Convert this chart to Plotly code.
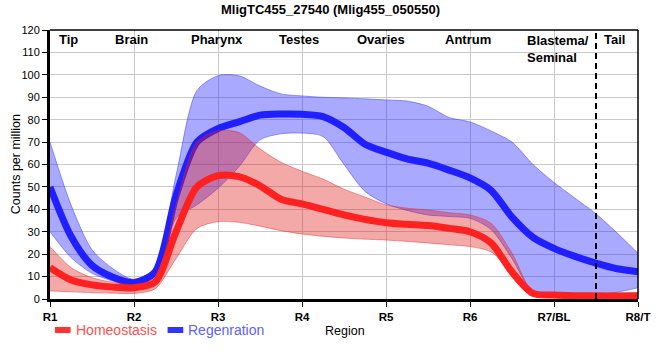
import plotly.graph_objects as go

# ---- data ----
x_pos = [1.0, 1.25, 1.5, 1.75, 2.0, 2.25, 2.5, 2.75, 3.0, 3.25, 3.5, 3.75, 4.0, 4.25,
         4.5, 4.75, 5.0, 5.25, 5.5, 5.75, 6.0, 6.25, 6.5, 6.75, 7.0, 7.25, 7.5, 7.75, 8.0]

homeo_mean = [14, 8.5, 6.3, 5.3, 5.0, 7.5, 30, 50, 55, 54.6, 50.5, 44.5, 42.4, 40,
              37.5, 35.5, 34, 33.3, 32.8, 31.5, 30, 25, 12, 2.5, 1.8, 1.5, 1.4, 1.3, 1.3]
homeo_upper = [23.4, 14, 9.5, 7.5, 6.5, 9.5, 42, 70, 75, 74.3, 67, 61, 57, 53.5,
               49, 45.5, 42, 40.5, 39.7, 38.5, 37.5, 33.8, 20.4, 3, 2, 2.2, 2.5, 2.7, 3]
homeo_lower = [3.6, 3.2, 2.8, 2.6, 2.5, 4.5, 18, 31.5, 34.5, 34.2, 32.5, 30.5, 29, 28,
               27.2, 26.7, 26.3, 25.7, 25, 24.2, 23.4, 21, 12, 2.5, 1, 0.8, 0.7, 0.7, 0.7]

regen_mean = [50, 28, 15, 9.7, 7.3, 12, 46, 70, 76, 79, 82, 82.5, 82.4, 81.4,
              76.5, 69, 65.5, 62.5, 60.6, 57.5, 54, 48.5, 36.5, 27.5, 22.6, 19, 16, 13.5, 12.2]
regen_upper = [70, 42, 22, 13.5, 8.8, 14, 55, 93, 99.6, 99.6, 95, 91.5, 90.6, 90,
               89.7, 89.3, 88.8, 88.3, 86, 81, 79, 75, 70, 60, 52, 45, 38, 29.5, 20.4]
regen_lower = [30, 18.5, 11.5, 8, 6.1, 10, 36, 42, 49.4, 59, 71, 73.7, 74, 72.5,
               60, 48, 42.5, 39.5, 37.5, 36.8, 36, 31, 18, 3, 1, 1, 1.8, 3, 5]

tick_vals = [1, 2, 3, 4, 5, 6, 7, 8]
tick_labels = ["R1", "R2", "R3", "R4", "R5", "R6", "R7/BL", "R8/T"]

region_names = ["Tip", "Brain", "Pharynx", "Testes", "Ovaries", "Antrum", "Tail"]
region_x = [1.22, 1.97, 2.99, 3.96, 4.94, 5.98, 7.72]
blastema_label = "Blastema/<br>Seminal"
blastema_x = 6.65
tail_boundary = 7.5

series_names = ["Homeostasis", "Regenration"]

# ---- styling ----
FONT = "Liberation Sans, Arial, sans-serif"
W, H = 660, 360
L, T = 50, 30
PLOT_R, PLOT_B = 650, 299
R, B = W - PLOT_R, H - PLOT_B
PW, PH = PLOT_R - L, PLOT_B - T

def px_x(px):  # page pixel -> paper
    return (px - L) / PW

def px_y(py):
    return (PLOT_B - py) / PH

BLUE = "#1f1fff"
RED = "#ff2020"
BLUE_BAND = "rgba(40,40,255,0.40)"
RED_BAND = "rgba(225,30,30,0.38)"
SPL = dict(shape="spline", smoothing=0.8)

fig = go.Figure()

# Regeneration band + line
fig.add_trace(go.Scatter(x=x_pos, y=regen_upper, mode="lines",
                         line=dict(color="rgba(60,60,255,0.5)", width=1, **SPL),
                         hoverinfo="skip", showlegend=False))
fig.add_trace(go.Scatter(x=x_pos, y=regen_lower, mode="lines", fill="tonexty",
                         fillcolor=BLUE_BAND,
                         line=dict(color="rgba(60,60,255,0.5)", width=1, **SPL),
                         hoverinfo="skip", showlegend=False))
fig.add_trace(go.Scatter(x=x_pos, y=regen_mean, mode="lines",
                         line=dict(color=BLUE, width=7, **SPL),
                         name=series_names[1], showlegend=False))

# Homeostasis band + line
fig.add_trace(go.Scatter(x=x_pos, y=homeo_upper, mode="lines",
                         line=dict(color="rgba(225,40,40,0.45)", width=1, **SPL),
                         hoverinfo="skip", showlegend=False))
fig.add_trace(go.Scatter(x=x_pos, y=homeo_lower, mode="lines", fill="tonexty",
                         fillcolor=RED_BAND,
                         line=dict(color="rgba(225,40,40,0.45)", width=1, **SPL),
                         hoverinfo="skip", showlegend=False))
fig.add_trace(go.Scatter(x=x_pos, y=homeo_mean, mode="lines",
                         line=dict(color=RED, width=7, **SPL),
                         name=series_names[0], showlegend=False))

annotations = []
for name, xv in zip(region_names, region_x):
    annotations.append(dict(x=xv, y=px_y(39), xref="x", yref="paper", text="<b>%s</b>" % name,
                            showarrow=False, xanchor="center", yanchor="middle",
                            font=dict(family=FONT, size=13, color="black")))
annotations.append(dict(x=blastema_x, y=px_y(31), xref="x", yref="paper",
                        text="<b>%s</b>" % blastema_label, showarrow=False,
                        xanchor="left", yanchor="top", align="left",
                        font=dict(family=FONT, size=13, color="black")))

# axis titles
annotations.append(dict(x=px_x(15), y=0.5, xref="paper", yref="paper", text="Counts per million",
                        textangle=-90, showarrow=False, xanchor="center", yanchor="middle",
                        font=dict(family=FONT, size=12.5, color="black")))
annotations.append(dict(x=px_x(351), y=px_y(331), xref="paper", yref="paper", text="Region",
                        showarrow=False, xanchor="center", yanchor="middle",
                        font=dict(family=FONT, size=12.5, color="black")))

# manual legend
legend_items = [(series_names[0], "#ff3333", "#ff5050", 55, 74),
                (series_names[1], "#3333ff", "#6060ff", 170, 189)]
shapes = []
for name, sw, tc, sx, tx in legend_items:
    shapes.append(dict(type="rect", xref="paper", yref="paper",
                       x0=px_x(sx), x1=px_x(sx + 16), y0=px_y(333), y1=px_y(327),
                       fillcolor=sw, line=dict(width=0)))
    annotations.append(dict(x=px_x(tx), y=px_y(330), xref="paper", yref="paper", text=name,
                            showarrow=False, xanchor="left", yanchor="middle",
                            font=dict(family=FONT, size=14, color=tc)))

# dashed tail boundary
shapes.append(dict(type="line", xref="x", yref="paper", x0=tail_boundary, x1=tail_boundary,
                   y0=0, y1=1, line=dict(color="black", width=2, dash="6px,4px")))
# top and right border
shapes.append(dict(type="line", xref="paper", yref="paper", x0=0, x1=1, y0=1, y1=1,
                   line=dict(color="black", width=1.5)))
shapes.append(dict(type="line", xref="paper", yref="paper", x0=1, x1=1, y0=0, y1=1,
                   line=dict(color="black", width=1.5)))

fig.update_layout(
    width=W, height=H,
    margin=dict(l=L, r=R, t=T, b=B, pad=0),
    paper_bgcolor="white", plot_bgcolor="white",
    title=dict(text="<b>MligTC455_27540 (Mlig455_050550)</b>", x=330.5 / W,
               xanchor="center", y=1 - 9.5 / H, yanchor="middle", yref="container",
               font=dict(family=FONT, size=13, color="black")),
    showlegend=False,
    hovermode=False,
    annotations=annotations,
    shapes=shapes,
    xaxis=dict(range=[1, 8], tickvals=tick_vals,
               ticktext=["<b>%s</b>" % t for t in tick_labels],
               showgrid=True, gridcolor="#c8c8c8", gridwidth=1,
               showline=True, linecolor="black", linewidth=3,
               ticks="outside", ticklen=5, tickcolor="black", tickwidth=1,
               tickfont=dict(family=FONT, size=11.5, color="black"),
               ticklabeloverflow="allow",
               zeroline=False, fixedrange=True),
    yaxis=dict(range=[0, 120], tickvals=list(range(0, 121, 10)),
               showgrid=True, gridcolor="#c8c8c8", gridwidth=1,
               showline=True, linecolor="black", linewidth=3,
               ticks="outside", ticklen=5, tickcolor="black", tickwidth=1,
               tickfont=dict(family=FONT, size=11, color="black"),
               zeroline=False, fixedrange=True),
)

fig.write_html(
    "out.html",
    config={"displayModeBar": False, "staticPlot": True},
    post_script="document.body.style.margin='0px';document.body.style.overflow='hidden';",
)
